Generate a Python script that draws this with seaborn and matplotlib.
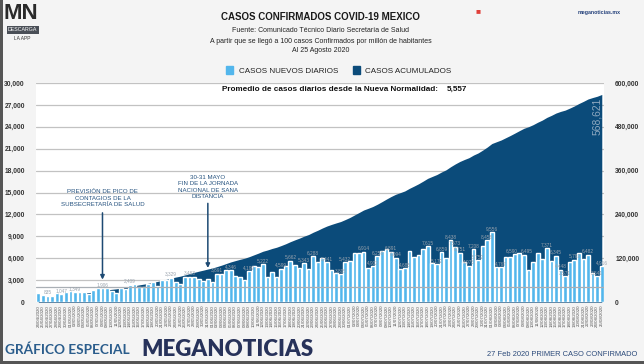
import numpy as np
import pandas as pd
import matplotlib
matplotlib.use("Agg")
import matplotlib.pyplot as plt
from matplotlib.patches import Patch, Rectangle
import seaborn as sns

# Casos nuevos diarios, 24 abr - 25 ago 2020
diarios = [
    1239, 970, 835, 852, 1223, 1047, 1425,
    1515, 1349, 1383, 1434, 1120, 1609, 1982, 1906, 1938, 1562, 1305, 1997, 1862, 2409, 2437,
    2112, 2075, 2414, 2713, 2248, 2973, 2960, 3329, 2764, 2485, 3455, 3463, 3377, 3227, 2885, 3152,
    2771, 3891, 3912, 4442, 4346, 3593, 3484, 2999, 4199, 4883, 4790, 5222, 3494, 4147, 3427,
    4599, 4930, 5662, 5030, 4717, 5343, 4577, 6288, 5437, 6104, 5441, 4410, 4050, 3805, 5432,
    5681, 6741, 6740, 6914, 4683, 4902, 6258, 6995, 7280, 6891, 6094, 4482, 4685, 7051, 6149,
    6406, 7257, 7615, 5311, 5172, 6859, 6019, 8438, 7573, 6751, 5480, 4973, 7208, 5752, 7730, 8458,
    9556, 4853, 4767, 6148, 6139, 6590, 6717, 6495, 4376, 5558, 6686, 5858, 7371, 5618, 6345,
    4448, 3571, 5506, 5792, 6775, 5928, 6482, 3948, 3541, 4916,
]

# Casos acumulados
acumulados = [
    12872, 13842, 14677, 15529, 16752, 17799, 19224,
    20739, 22088, 23471, 24905, 26025, 27634, 29616, 31522, 33460, 35022, 36327, 38324, 40186,
    42595, 45032, 47144, 49219, 51633, 54346, 56594, 59567, 62527, 65856, 68620, 71105, 74560,
    78023, 81400, 84627, 87512, 90664,
    93435, 97326, 101238, 105680, 110026, 113619, 117103, 120102, 124301, 129184, 133974, 139196,
    142690, 146837, 150264, 154863, 159793, 165455, 170485, 175202, 180545, 185122, 191410,
    196847, 202951, 208392, 212802, 216852, 220657, 226089,
    231770, 238511, 245251, 252165, 256848, 261750, 268008, 275003, 282283, 289174, 295268,
    299750, 304435, 311486, 317635, 324041, 331298, 338913, 344224, 349396, 356255, 362274,
    370712, 378285, 385036, 390516, 395489, 402697, 408449, 416179, 424637,
    434193, 439046, 443813, 449961, 456100, 462690, 469407, 475902, 480278, 485836, 492522,
    498380, 505751, 511369, 517714, 522162, 525733, 531239, 537031, 543806, 549734, 556216,
    560164, 563705, 568621,
]

fechas = pd.date_range("2020-04-24", "2020-08-25", freq="D")
etiquetas_fechas = [f.strftime("%d/%m/%Y") for f in fechas]

# barras con etiqueta de valor visible
con_etiqueta = ["04-26", "04-29", "05-02", "05-08", "05-14", "05-23", "05-27",
                "06-02", "06-05", "06-09", "06-12", "06-16", "06-18", "06-21", "06-23",
                "06-26", "06-29", "06-30", "07-04", "07-06", "07-07", "07-10", "07-11",
                "07-13", "07-18", "07-20", "07-21", "07-23", "07-24", "07-25", "07-27",
                "07-28", "07-29", "07-31", "08-01", "08-03", "08-06", "08-08",
                "08-13", "08-15", "08-16", "08-17", "08-19", "08-22", "08-24", "08-25"]
# etiquetas corridas para no encimarse
corridas = {"08-06": "right", "08-08": "left"}

azul_claro = "#52b6ec"
azul_oscuro = "#0b4b7a"
texto_azul = "#25527f"

sns.set_theme(style="white")
plt.rcParams["font.family"] = ["Liberation Sans", "DejaVu Sans"]

fig = plt.figure(figsize=(6.44, 3.64), dpi=100, facecolor="#f4f4f4")
ax = fig.add_axes([0.056, 0.170, 0.882, 0.602])
ax2 = ax.twinx()
ax.set_zorder(ax2.get_zorder() + 1)
ax.patch.set_visible(False)
ax2.patch.set_visible(True)
ax2.patch.set_facecolor("white")

# Area de acumulados (eje derecho)
n = len(diarios)
pos = np.arange(n)
ax2.fill_between(pos, acumulados, 0, color=azul_oscuro, lw=0, zorder=2)
ax2.set_ylim(0, 600000)
ax2.set_yticks(np.arange(0, 600001, 60000))
ax2.set_yticklabels([f"{v:,}" if v % 120000 == 0 else "" for v in range(0, 600001, 60000)],
                    fontsize=4.8, fontweight="bold", color="#333333")
ax2.grid(axis="y", color="#c2c2c2", lw=0.9)
ax2.set_axisbelow(True)
ax2.tick_params(axis="y", length=0, pad=8)

# Barras de casos diarios (eje izquierdo)
df = pd.DataFrame({"fecha": etiquetas_fechas, "diarios": diarios})
sns.barplot(data=df, x="fecha", y="diarios", color=azul_claro, saturation=1,
            width=0.82, ax=ax, zorder=3)
ax.set_ylim(0, 30000)
ax.set_xlim(-0.5, n - 0.5)
ax.set_yticks(range(0, 30001, 3000))
ax.set_yticklabels([f"{v:,}" for v in range(0, 30001, 3000)],
                   fontsize=4.8, fontweight="bold", color="#333333")
ax.tick_params(axis="y", length=0, pad=8)
ax.set_xticks(pos)
ax.set_xticklabels(etiquetas_fechas, rotation=90, fontsize=3.2, color="#555555")
ax.tick_params(axis="x", length=0, pad=2)
ax.set_xlabel("")
ax.set_ylabel("")
for a in (ax, ax2):
    for s in a.spines.values():
        s.set_visible(False)

ax.axhline(2050, color="#a9afb5", lw=0.9, zorder=4)

mes_dia = [f.strftime("%m-%d") for f in fechas]
for md in con_etiqueta:
    i = mes_dia.index(md)
    ha = corridas.get(md, "center")
    dx = {"center": 0, "right": 0.6, "left": -0.6}[ha]
    ax.text(i + dx, diarios[i] + 150, f"{diarios[i]:,}", ha=ha, va="bottom",
            fontsize=3.4, color="#9aa3ad", zorder=5)

# Total acumulado vertical
ax2.text(n - 2, acumulados[-1] - 8000, f"{acumulados[-1]:,}", rotation=90, ha="center",
         va="top", fontsize=7.4, color="#8fa9c0", zorder=5)

# Anotaciones
i_pico = 14
ax.text(i_pico, 13000, "PREVISIÓN DE PICO DE\nCONTAGIOS DE LA\nSUBSECRETARÍA DE SALUD",
        ha="center", va="bottom", fontsize=4.4, color=texto_azul, linespacing=1.35, zorder=6)
ax.annotate("", xy=(i_pico, 2700), xytext=(i_pico, 12600),
            arrowprops=dict(arrowstyle="-|>", color="#1d4a73", lw=1.1, mutation_scale=6), zorder=6)
i_mayo = 37
ax.text(i_mayo, 14100, "30-31 MAYO\nFIN DE LA JORNADA\nNACIONAL DE SANA\nDISTANCIA",
        ha="center", va="bottom", fontsize=4.4, color=texto_azul, linespacing=1.35, zorder=6)
ax.annotate("", xy=(i_mayo, 4300), xytext=(i_mayo, 13900),
            arrowprops=dict(arrowstyle="-|>", color="#1d4a73", lw=1.1, mutation_scale=6), zorder=6)

# Titulos
fig.text(0.498, 0.953, "CASOS CONFIRMADOS COVID-19 MEXICO", ha="center", va="center",
         fontsize=7, fontweight="bold", color="#1a1a1a")
fig.text(0.498, 0.915, "Fuente: Comunicado Técnico Diario Secretaría de Salud",
         ha="center", va="center", fontsize=5, color="#222222")
fig.text(0.498, 0.887, "A partir que se llegó a 100 casos Confirmados por millón de habitantes",
         ha="center", va="center", fontsize=5, color="#222222")
fig.text(0.498, 0.860, "Al 25 Agosto 2020", ha="center", va="center", fontsize=5, color="#222222")

fig.legend(handles=[Patch(color=azul_claro), Patch(color=azul_oscuro)],
           labels=["CASOS NUEVOS DIARIOS", "CASOS ACUMULADOS"],
           loc="center", bbox_to_anchor=(0.526, 0.806), ncol=2, frameon=False,
           fontsize=5.8, handlelength=0.9, handleheight=1.1, columnspacing=1.8,
           handletextpad=0.7, labelcolor="#222222")

fig.text(0.680, 0.755, "Promedio de casos diarios desde la Nueva Normalidad:", ha="right",
         va="center", fontsize=5.9, fontweight="bold", color="#111111")
fig.text(0.694, 0.755, "5,557", ha="left", va="center", fontsize=5.9,
         fontweight="bold", color="#111111")

# Marca
fig.text(0.006, 0.962, "MN", ha="left", va="center", fontsize=16, fontweight="bold",
         color="#2a2a2a", family=["Liberation Sans Narrow", "Liberation Sans"])
fig.text(0.035, 0.918, "DESCARGA", ha="center", va="center", fontsize=3.8, color="white",
         bbox=dict(boxstyle="square,pad=0.25", fc="#4a4f57", ec="none"))
fig.text(0.035, 0.893, "LA APP", ha="center", va="center", fontsize=3.5, color="#333333")
fig.text(0.742, 0.967, "■", ha="center", va="center", fontsize=6, color="#e0403a")
fig.text(0.930, 0.967, "meganoticias.mx", ha="center", va="center", fontsize=3.8,
         fontweight="bold", color="#23407a")

fig.text(0.008, 0.040, "GRÁFICO ESPECIAL", ha="left", va="center", fontsize=9.8,
         fontweight="bold", color="#2b5d8c", family=["Lato", "DejaVu Sans"])
fig.text(0.220, 0.040, "MEGANOTICIAS", ha="left", va="center", fontsize=16,
         fontweight="heavy", color="#27325a", family=["Lato", "DejaVu Sans"])
fig.text(0.990, 0.025, "27 Feb 2020 PRIMER CASO CONFIRMADO", ha="right", va="center",
         fontsize=5.4, color="#2b4a7a")

fig.add_artist(Rectangle((0, 0), 0.005, 1, transform=fig.transFigure, color="#555555", lw=0))
fig.add_artist(Rectangle((0, 0), 1, 0.008, transform=fig.transFigure, color="#555555", lw=0))

fig.savefig("out.png", dpi=100, facecolor=fig.get_facecolor())
